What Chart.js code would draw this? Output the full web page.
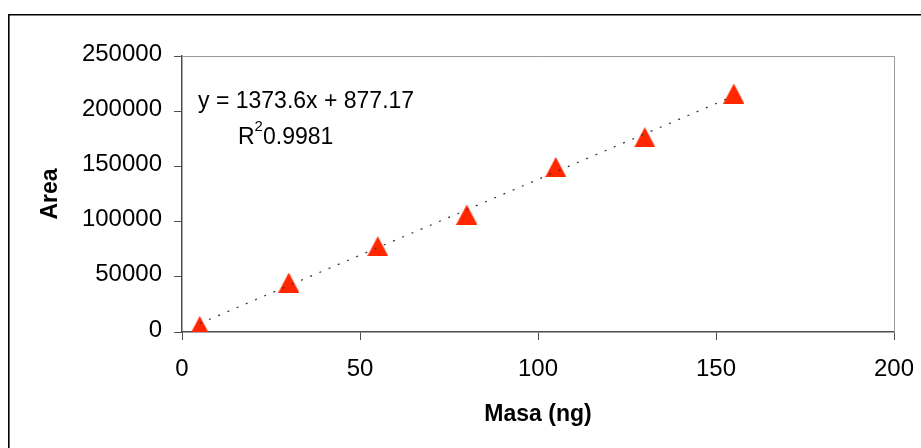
<!DOCTYPE html>
<html>
<head>
<meta charset="utf-8">
<script src="https://cdn.jsdelivr.net/npm/chart.js@4/dist/chart.umd.min.js"></script>
<style>
  html, body { margin: 0; padding: 0; background: #fff; overflow: hidden; }
  canvas { display: block; }
</style>
</head>
<body>
<canvas id="c" width="921" height="448"></canvas>
<script>
// Calibration data: injected mass vs. peak area
const masa = [5, 30, 55, 80, 105, 130, 155];
const area = [5500, 44800, 77700, 106400, 149500, 176500, 216000];

// Linear trend line y = slope * x + intercept, drawn over the measured range
const trendCoef = [1373.6, 877.17];
const trendRange = [5, 155];

const xTicks = [0, 50, 100, 150, 200];
const yTicks = [0, 50000, 100000, 150000, 200000, 250000];

const equationText = 'y = 1373.6x + 877.17';
const r2Parts = ['R', '2', '0.9981'];
const xTitle = 'Masa (ng)';
const yTitle = 'Area';

const FONT = '"Liberation Sans", Arial, Helvetica, sans-serif';
const AXIS_COLOR = '#4d4d4d';
const FRAME_COLOR = '#9a9a9a';
const MARKER_COLOR = '#ff2600';

// Upward triangle marker drawn into a small canvas
function triangleMarker(w, h, color) {
  const c = document.createElement('canvas');
  c.width = w; c.height = h;
  const g = c.getContext('2d');
  g.fillStyle = color;
  g.beginPath();
  g.moveTo(w / 2, 0);
  g.lineTo(w, h);
  g.lineTo(0, h);
  g.closePath();
  g.fill();
  return c;
}

const trendPoints = trendRange.map(x => ({ x: x, y: trendCoef[0] * x + trendCoef[1] }));
const points = masa.map((m, i) => ({ x: m, y: area[i] }));

// Outer figure border, plot frame and equation label
const decorations = {
  id: 'decorations',
  beforeDraw(chart) {
    const ctx = chart.ctx;
    ctx.save();
    ctx.fillStyle = '#fff';
    ctx.fillRect(0, 0, chart.width, chart.height);
    ctx.strokeStyle = '#000';
    ctx.lineWidth = 1.6;
    ctx.beginPath();
    ctx.moveTo(8.8, chart.height + 5);
    ctx.lineTo(8.8, 14.8);
    ctx.lineTo(chart.width + 5, 14.8);
    ctx.stroke();
    ctx.restore();
  },
  beforeDatasetsDraw(chart) {
    const { left, top, right, bottom } = chart.chartArea;
    const ctx = chart.ctx;
    ctx.save();
    ctx.strokeStyle = FRAME_COLOR;
    ctx.lineWidth = 1;
    ctx.beginPath();
    ctx.moveTo(left, top + 0.5);
    ctx.lineTo(right + 0.5, top + 0.5);
    ctx.lineTo(right + 0.5, bottom);
    ctx.stroke();
    ctx.restore();
  },
  afterDraw(chart) {
    const ctx = chart.ctx;
    ctx.save();
    ctx.fillStyle = '#000';
    ctx.textBaseline = 'alphabetic';
    ctx.textAlign = 'left';
    ctx.font = '23px ' + FONT;
    ctx.fillText(equationText, 198, 108);
    let x = 238;
    ctx.fillText(r2Parts[0], x, 144);
    x += ctx.measureText(r2Parts[0]).width;
    ctx.font = '15px ' + FONT;
    ctx.fillText(r2Parts[1], x, 131);
    x += ctx.measureText(r2Parts[1]).width;
    ctx.font = '23px ' + FONT;
    ctx.fillText(r2Parts[2], x, 144);
    ctx.restore();
  }
};

new Chart(document.getElementById('c'), {
  type: 'scatter',
  data: {
    datasets: [
      {
        label: 'Lineal',
        data: trendPoints,
        showLine: true,
        borderColor: '#333',
        borderWidth: 1.2,
        borderDash: [2, 8],
        pointRadius: 0,
        fill: false
      },
      {
        label: 'Area',
        data: points,
        pointStyle: triangleMarker(21, 20, MARKER_COLOR),
        pointRadius: 10,
        showLine: false
      }
    ]
  },
  options: {
    responsive: false,
    animation: false,
    devicePixelRatio: 1,
    layout: { padding: { left: 0, top: 56, right: 27, bottom: 0 } },
    plugins: {
      legend: { display: false },
      tooltip: { enabled: false }
    },
    scales: {
      x: {
        type: 'linear',
        min: xTicks[0],
        max: xTicks[xTicks.length - 1],
        afterBuildTicks: s => { s.ticks = xTicks.map(v => ({ value: v })); },
        afterFit: s => { s.height = 116; s.paddingLeft = 0; s.paddingRight = 0; },
        grid: { drawOnChartArea: false, drawTicks: true, tickLength: 8, color: AXIS_COLOR, lineWidth: 1 },
        border: { display: true, color: AXIS_COLOR, width: 1.5 },
        ticks: { color: '#000', font: { family: FONT, size: 24 }, padding: 15, maxRotation: 0 },
        title: {
          display: true, text: xTitle, color: '#000',
          font: { family: FONT, size: 23, weight: 'bold' },
          padding: { top: 0, bottom: 20 }
        }
      },
      y: {
        type: 'linear',
        min: yTicks[0],
        max: yTicks[yTicks.length - 1],
        afterBuildTicks: s => { s.ticks = yTicks.map(v => ({ value: v })); },
        afterFit: s => { s.width = 182; s.paddingTop = 0; s.paddingBottom = 0; },
        grid: { drawOnChartArea: false, drawTicks: true, tickLength: 8, color: AXIS_COLOR, lineWidth: 1 },
        border: { display: true, color: AXIS_COLOR, width: 1.5 },
        ticks: { color: '#000', font: { family: FONT, size: 24 }, padding: 12, labelOffset: -2, callback: v => String(v) },
        title: {
          display: true, text: yTitle, color: '#000',
          font: { family: FONT, size: 23, weight: 'bold' },
          padding: { top: 37, bottom: 0 }
        }
      }
    }
  },
  plugins: [decorations]
});
</script>
</body>
</html>
